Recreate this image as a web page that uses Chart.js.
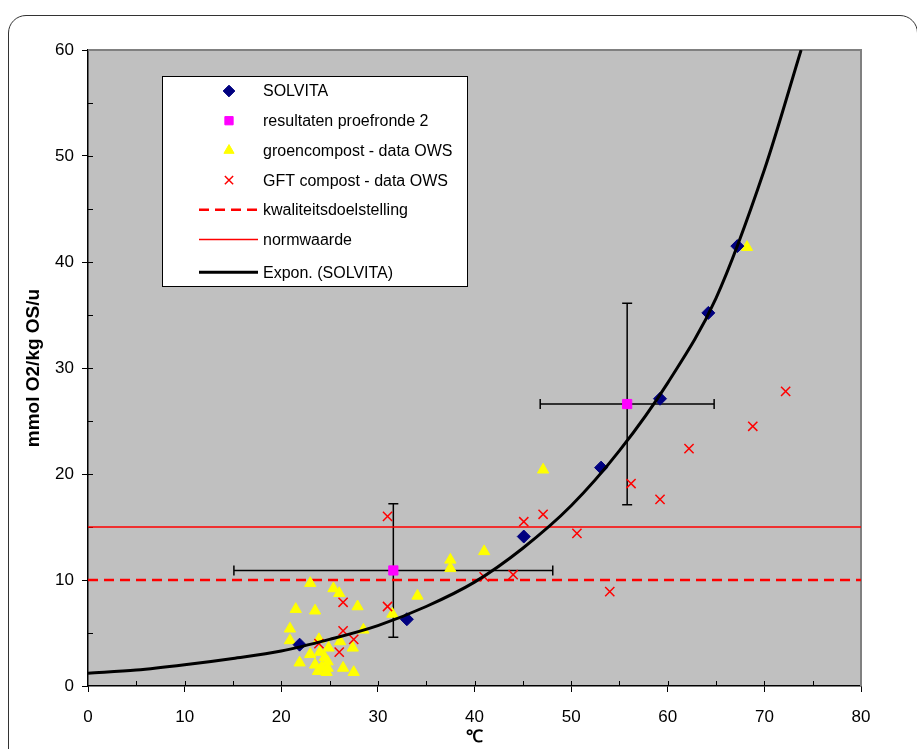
<!DOCTYPE html>
<html>
<head>
<meta charset="utf-8">
<script src="https://cdn.jsdelivr.net/npm/chart.js@4.4.1/dist/chart.umd.min.js"></script>
<style>
html, body { margin: 0; padding: 0; background: #fff; overflow: hidden; }
#wrap { position: relative; width: 917px; height: 749px; overflow: hidden; }
#frame { position: absolute; left: 8px; top: 15px; width: 910px; height: 800px; border: 1.5px solid #333; border-radius: 18px; box-sizing: border-box; }
#myChart { position: absolute; left: 0; top: 0; }
</style>
</head>
<body>
<div id="wrap">
  <div id="frame"></div>
  <canvas id="myChart" width="917" height="749"></canvas>
</div>
<script>
// SOLVITA
let solvitaX = [21.9, 33.0, 45.1, 53.1, 59.2, 64.2, 67.2];
let solvitaY = [3.9, 6.3, 14.1, 20.6, 27.1, 35.2, 41.5];

// resultaten proefronde 2 (with error bars)
let proefX = [31.6, 55.8];
let proefY = [10.9, 26.6];
let proefXErr = [16.5, 9.0];
let proefYErr = [6.3, 9.5];

// groencompost - data OWS
let groenX = [23.0, 25.4, 26.0, 27.9, 21.5, 23.5, 31.5, 20.9, 20.9, 28.5, 23.9, 26.1, 27.4, 24.9, 23.0, 24.0,
              24.5, 21.9, 23.5, 24.2, 24.8, 23.8, 24.7, 26.4, 27.5, 24.8, 34.1, 37.5, 37.5, 41.0, 47.1, 68.2];
let groenY = [9.7, 9.2, 8.75, 7.5, 7.25, 7.1, 6.8, 5.4, 4.3, 5.3, 4.4, 4.2, 3.6, 3.6, 3.0, 3.2,
              2.7, 2.2, 2.0, 1.8, 1.7, 1.4, 1.3, 1.7, 1.3, 2.3, 8.5, 11.9, 11.1, 12.7, 20.4, 41.4];

// GFT compost - data OWS
let gftX = [23.9, 26.0, 26.4, 27.5, 26.4, 31.0, 31.0, 41.0, 44.0, 45.1, 47.1, 50.6, 54.0, 56.2, 59.2, 62.2, 68.8, 72.2];
let gftY = [4.0, 3.2, 5.2, 4.4, 7.9, 7.5, 16.0, 10.3, 10.5, 15.5, 16.2, 14.4, 8.9, 19.1, 17.6, 22.4, 24.5, 27.8];

// kwaliteitsdoelstelling / normwaarde
let limitX = [0, 80];
let kwalY = [10, 10];
let normY = [15, 15];

// Expon. (SOLVITA)
let trendX = [0, 5, 10, 15, 20, 25, 30, 35, 40, 45, 50, 55, 60, 65, 70, 73.8];
let trendY = [1.2, 1.5, 2.0, 2.6, 3.3, 4.4, 5.7, 7.5, 9.8, 13.0, 17.0, 22.2, 28.6, 36.6, 48.7, 60];

// axis ticks
let xTicks = [0, 10, 20, 30, 40, 50, 60, 70, 80];
let yTicks = [0, 10, 20, 30, 40, 50, 60];

const FONT = "'Liberation Sans', Arial, sans-serif";

function pts(xs, ys) {
    return xs.map((x, i) => ({ x: x, y: ys[i] }));
}

// plot background and gray frame, inner tick marks, error bars, legend box
const plotPlugin = {
    id: 'plotPlugin',
    beforeDraw(chart) {
        const a = chart.chartArea;
        const ctx = chart.ctx;
        ctx.save();
        ctx.fillStyle = '#C0C0C0';
        ctx.fillRect(a.left, a.top, a.right - a.left, a.bottom - a.top);
        ctx.restore();
    },
    beforeDatasetsDraw(chart) {
        const a = chart.chartArea;
        const ctx = chart.ctx;
        const xs = chart.scales.x;
        const ys = chart.scales.y;
        ctx.save();
        ctx.strokeStyle = '#808080';
        ctx.lineWidth = 2;
        ctx.beginPath();
        ctx.moveTo(a.left, a.top);
        ctx.lineTo(a.right, a.top);
        ctx.lineTo(a.right, a.bottom);
        ctx.stroke();

        // ticks inside the plot
        ctx.strokeStyle = '#000';
        ctx.lineWidth = 1;
        ctx.beginPath();
        for (let v = 5; v < 80; v += 5) {
            let px = Math.round(xs.getPixelForValue(v)) + 0.5;
            ctx.moveTo(px, a.bottom);
            ctx.lineTo(px, a.bottom - 5);
        }
        for (let v = 5; v < 60; v += 5) {
            let py = Math.round(ys.getPixelForValue(v)) + 0.5;
            ctx.moveTo(a.left, py);
            ctx.lineTo(a.left + 5, py);
        }
        ctx.stroke();

        // error bars
        ctx.lineWidth = 1.5;
        ctx.beginPath();
        proefX.forEach((x, i) => {
            let y = proefY[i];
            let cx = xs.getPixelForValue(x);
            let cy = ys.getPixelForValue(y);
            let x1 = xs.getPixelForValue(x - proefXErr[i]);
            let x2 = xs.getPixelForValue(x + proefXErr[i]);
            let y1 = ys.getPixelForValue(y - proefYErr[i]);
            let y2 = ys.getPixelForValue(y + proefYErr[i]);
            ctx.moveTo(x1, cy); ctx.lineTo(x2, cy);
            ctx.moveTo(x1, cy - 5); ctx.lineTo(x1, cy + 5);
            ctx.moveTo(x2, cy - 5); ctx.lineTo(x2, cy + 5);
            ctx.moveTo(cx, y1); ctx.lineTo(cx, y2);
            ctx.moveTo(cx - 5, y1); ctx.lineTo(cx + 5, y1);
            ctx.moveTo(cx - 5, y2); ctx.lineTo(cx + 5, y2);
        });
        ctx.stroke();
        ctx.restore();
    },
    afterDatasetsDraw(chart) {
        const a = chart.chartArea;
        const ctx = chart.ctx;
        const bx = a.left + 74, by = a.top + 26, bw = 305, bh = 210;
        ctx.save();
        ctx.fillStyle = '#fff';
        ctx.fillRect(bx, by, bw, bh);
        ctx.strokeStyle = '#000';
        ctx.lineWidth = 1;
        ctx.strokeRect(bx + 0.5, by + 0.5, bw, bh);
        ctx.font = '16px ' + FONT;
        ctx.textBaseline = 'middle';
        ctx.textAlign = 'left';
        chart.data.datasets.forEach((ds, i) => {
            const ry = by + 15 + i * 29.7 + (i === 6 ? 3 : 0);
            if (ds.showLine) {
                ctx.save();
                ctx.strokeStyle = ds.borderColor;
                ctx.lineWidth = ds.borderWidth;
                ctx.setLineDash(ds.borderDash || []);
                ctx.beginPath();
                ctx.moveTo(bx + 37, ry);
                ctx.lineTo(bx + 96, ry);
                ctx.stroke();
                ctx.restore();
            } else {
                ctx.save();
                ctx.fillStyle = ds.backgroundColor;
                ctx.strokeStyle = ds.borderColor;
                ctx.lineWidth = ds.borderWidth;
                Chart.helpers.drawPoint(ctx, { pointStyle: ds.pointStyle, radius: ds.pointRadius * 0.9, rotation: 0, borderWidth: ds.borderWidth }, bx + 67, ry);
                ctx.restore();
            }
            ctx.fillStyle = '#000';
            ctx.fillText(ds.label, bx + 101, ry + 1);
        });
        ctx.restore();
    }
};

const myChart = new Chart(document.getElementById('myChart'), {
    type: 'scatter',
    data: {
        datasets: [
            {
                label: 'SOLVITA',
                data: pts(solvitaX, solvitaY),
                pointStyle: 'rectRot',
                pointRadius: 6.5,
                backgroundColor: '#000080',
                borderColor: '#000080',
                borderWidth: 1,
                order: 3
            },
            {
                label: 'resultaten proefronde 2',
                data: pts(proefX, proefY),
                pointStyle: 'rect',
                pointRadius: 6.5,
                backgroundColor: '#FF00FF',
                borderColor: '#FF00FF',
                borderWidth: 1,
                order: 1
            },
            {
                label: 'groencompost - data OWS',
                data: pts(groenX, groenY),
                pointStyle: 'triangle',
                pointRadius: 6.5,
                backgroundColor: '#FFFF00',
                borderColor: '#FFFF00',
                borderWidth: 1,
                order: 5
            },
            {
                label: 'GFT compost - data OWS',
                data: pts(gftX, gftY),
                pointStyle: 'crossRot',
                pointRadius: 6.5,
                backgroundColor: '#FF0000',
                borderColor: '#FF0000',
                borderWidth: 1.5,
                order: 4
            },
            {
                label: 'kwaliteitsdoelstelling',
                data: pts(limitX, kwalY),
                showLine: true,
                pointRadius: 0,
                borderColor: '#FF0000',
                borderWidth: 2.5,
                borderDash: [10, 6],
                order: 7
            },
            {
                label: 'normwaarde',
                data: pts(limitX, normY),
                showLine: true,
                pointRadius: 0,
                borderColor: '#FF0000',
                borderWidth: 1.5,
                order: 7
            },
            {
                label: 'Expon. (SOLVITA)',
                data: pts(trendX, trendY),
                showLine: true,
                pointRadius: 0,
                borderColor: '#000',
                borderWidth: 3,
                cubicInterpolationMode: 'monotone',
                order: 2
            }
        ]
    },
    options: {
        responsive: false,
        animation: false,
        layout: { padding: { top: 50, right: 56, left: 0, bottom: 0 } },
        plugins: {
            legend: { display: false },
            tooltip: { enabled: false }
        },
        scales: {
            x: {
                type: 'linear',
                min: 0,
                max: 80,
                afterFit: (scale) => { scale.height = 63; },
                ticks: {
                    stepSize: 5,
                    autoSkip: false,
                    maxRotation: 0,
                    padding: 15,
                    color: '#000',
                    font: { family: FONT, size: 17 },
                    callback: (v) => xTicks.includes(v) ? v : ''
                },
                grid: {
                    drawOnChartArea: false,
                    tickLength: 6,
                    tickColor: (c) => xTicks.includes(c.tick.value) ? '#000' : 'rgba(0,0,0,0)'
                },
                border: { color: '#000', width: 1.5 },
                title: {
                    display: true,
                    text: '℃',
                    color: '#000',
                    font: { family: FONT, size: 17, weight: 'bold' },
                    padding: { top: 0, bottom: 1 }
                }
            },
            y: {
                type: 'linear',
                min: 0,
                max: 60,
                afterFit: (scale) => { scale.width = 88; },
                ticks: {
                    stepSize: 5,
                    autoSkip: false,
                    padding: 8,
                    color: '#000',
                    font: { family: FONT, size: 17 },
                    callback: (v) => yTicks.includes(v) ? v : ''
                },
                grid: {
                    drawOnChartArea: false,
                    tickLength: 6,
                    tickColor: (c) => yTicks.includes(c.tick.value) ? '#000' : 'rgba(0,0,0,0)'
                },
                border: { color: '#000', width: 1.5 },
                title: {
                    display: true,
                    text: 'mmol O2/kg OS/u',
                    color: '#000',
                    font: { family: FONT, size: 19, weight: 'bold' },
                    padding: { top: 22, bottom: 0 }
                }
            }
        }
    },
    plugins: [plotPlugin]
});
</script>
</body>
</html>
